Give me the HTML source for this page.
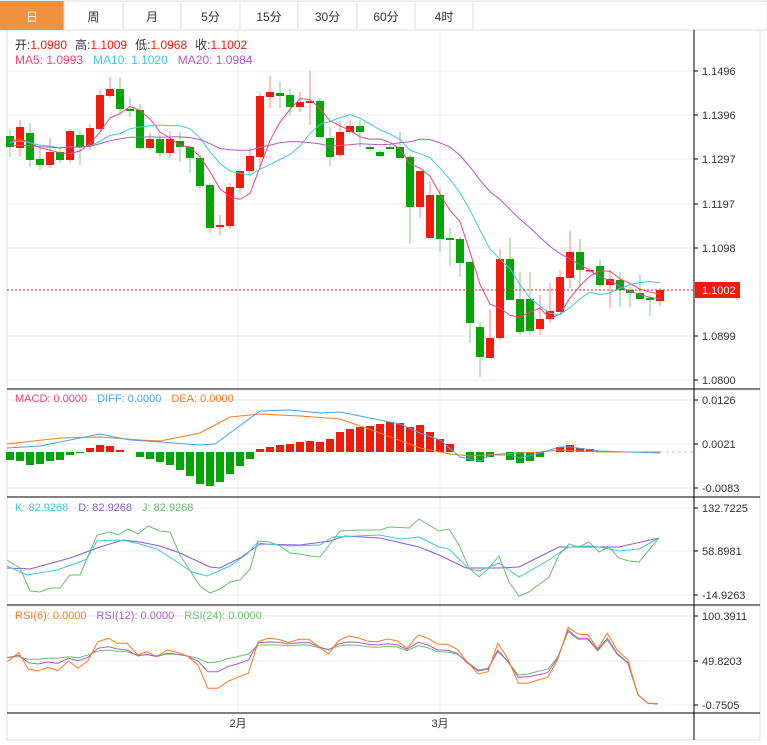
<!DOCTYPE html>
<html><head><meta charset="utf-8"><style>
body{margin:0;background:#fff;width:767px;height:745px;overflow:hidden;font-family:"Liberation Sans","Noto Sans CJK SC",sans-serif;}
svg{position:absolute;left:0;top:0}
</style></head><body>
<svg id="s" width="767" height="745" xmlns="http://www.w3.org/2000/svg" font-family="Liberation Sans, Noto Sans CJK SC, sans-serif"></svg>
<script>
const S=document.getElementById('s');let h='';
function L(x1,y1,x2,y2,c,w,d){h+=`<line x1="${x1}" y1="${y1}" x2="${x2}" y2="${y2}" stroke="${c}" stroke-width="${w||1}" ${d?'stroke-dasharray="'+d+'"':''}/>`;}
function T(x,y,t,c,s,a){h+=`<text x="${x}" y="${y}" fill="${c}" font-size="${s||12}" ${a?'text-anchor="'+a+'"':''}>${t}</text>`;}
function P(pts,c,w){h+=`<polyline fill="none" stroke="${c}" stroke-width="${w||1}" points="${pts.map(p=>p.join(',')).join(' ')}"/>`;}
const tabs=[['日',0,64],['周',64,123],['月',123,181],['5分',181,240],['15分',240,298],['30分',298,357],['60分',357,415],['4时',415,473],['',473,767]];
L(0,1,767,1,'#ddd');L(0,30,767,30,'#ddd');
tabs.forEach((t,i)=>{if(i==0)h+=`<rect x="0" y="1" width="64" height="29" fill="#f0913f"/>`;L(t[2],1,t[2],30,'#ddd');T((t[1]+t[2])/2,21,t[0],i==0?'#fff':'#333',12,'middle');});
L(7,30,7,740,'#ddd');L(760,30,760,740,'#ddd');L(7,740,760,740,'#ddd');
[71,115,159,204,248,336,380,400,444,488,508,551,595,616,661,705].forEach(y=>L(7,y,694,y,'#e8eef3'));
L(238,30,238,713,'#e8eef3');L(440,30,440,713,'#e8eef3');
[389,497,605,713].forEach(y=>L(7,y,760,y,'#000'));
L(694,30,694,740,'#000');
[['1.1496',71],['1.1396',115],['1.1297',159],['1.1197',204],['1.1098',248],['1.0899',336],['1.0800',380],['0.0126',400],['0.0021',444],['-0.0083',488],['132.7225',508],['58.8981',551],['-14.9263',595],['100.3911',616],['49.8203',661],['-0.7505',705]].forEach(a=>{L(694,a[1],698,a[1],'#000');T(702,a[1]+4,a[0],'#333',11);});
T(238,727,'2月','#333',11,'middle');T(440,727,'3月','#333',11,'middle');
const C=[['g',136,147,130,157],['r',127,148,120,157],['g',133,160,123,167],['g',159,165,147,170],['r',152,165,138,168],['g',152,160,147,163],['r',131,160,129,163],['g',135,147,131,165],['r',128,146,124,150],['r',95,129,90,131],['r',89,96,77,98],['g',89,109,77,114],['g',109,111,98,117],['g',110,148,104,150],['r',139,148,133,150],['g',139,153,135,157],['r',139,153,131,158],['g',141,147,132,162],['g',147,158,145,173],['g',158,186,156,189],['g',185,228,183,233],['r',225,227,215,235],['r',187,226,183,229],['r',171,188,169,193],['r',156,171,148,175],['r',96,157,93,170],['r',92,97,76,108],['g',93,96,82,108],['g',95,107,89,115],['r',102,107,92,112],['r',101,103,71,125],['g',101,137,98,137],['g',138,157,127,166],['r',132,155,121,157],['r',126,132,120,134],['g',126,132,120,147],['g',147,149,145,151],['g',152,156,150,157],['g',147,149,145,150],['g',147,158,132,158],['g',157,207,155,244],['r',171,207,171,218],['r',195,238,182,238],['g',195,239,188,252],['g',238,240,228,266],['g',239,263,237,277],['g',262,323,262,343],['g',327,357,322,377],['r',338,358,310,358],['r',259,338,249,340],['g',259,300,238,300],['g',299,332,272,335],['g',299,331,272,335],['r',319,329,295,335],['r',311,319,283,323],['r',277,312,271,312],['r',252,278,231,288],['g',252,270,239,287],['r',270,271,268,273],['g',266,285,260,287],['r',279,285,270,308],['g',280,290,272,307],['g',290,293,287,307],['g',293,299,275,299],['g',298,300,295,316],['r',290,301,288,306]];
const closes=[];
C.forEach((c,i)=>{const x=10+10*i,col=c[0]=='r'?'#f21a0a':'#03a503',wc=c[0]=='r'?'#f58a80':'#7fcf7f';
L(x,c[3],x,c[4],wc);h+=`<rect x="${x-4}" y="${c[1]}" width="8" height="${Math.max(1.5,c[2]-c[1])}" fill="${col}"/>`;
closes.push(c[0]=='r'?c[1]:c[2]);});
function ma(n,pre){return closes.map((v,i)=>{let s=0,k=0;for(let j=i-n+1;j<=i;j++){s+=j<0?pre:closes[j];k++;}return [10+10*i,(s/k).toFixed(1)];});}
P(ma(5,140),'#f0457a');P(ma(10,142),'#3fc8e0');P(ma(20,146),'#b05ac8');
L(7,290,694,290,'#f21a0a',1,'2,2');
h+=`<rect x="695" y="282" width="45" height="16" fill="#f21a0a"/>`;T(702,294,'1.1002','#fff',11);
const M=[-8,-9,-13,-12,-9,-8,-3,-1,4,7,6,2,0,-5,-7,-10,-13,-18,-24,-32,-34,-30,-22,-14,-7,3,5,7,8,10,11,10,13,20,23,25,26,28,30,29,25,27,20,13,8,0,-9,-10,-5,0,-8,-11,-9,-5,0,5,7,4,3,1,1,0.5,0.5,0,0,0];
M.forEach((v,i)=>{const x=10+10*i;if(v==0)return;h+=`<rect x="${x-4}" y="${v>0?452-v:452}" width="8" height="${Math.abs(v)}" fill="${v>0?'#f21a0a':'#03a503'}"/>`;});
L(660,452,694,452,'#9fd0e8',1,'3,3');
P([[7,444],[60,438],[100,437],[140,440],[160,441],[200,433],[230,417],[260,414],[300,416],[340,419],[380,433],[420,448],[450,454],[470,456],[500,454],[540,452],[560,450],[600,452],[660,452]],'#ff7a1a');
P([[7,448],[40,446],[100,434],[130,440],[160,442],[200,445],[215,444],[260,411],[290,410],[320,413],[340,412],[380,420],[400,424],[420,433],[440,440],[460,457],[480,461],[490,455],[510,455],[520,458],[540,453],[560,447],[570,447],[600,451],[660,453]],'#4aa3f0');
P([[7,568],[30,569],[70,558],[100,547],[123,540],[140,542],[160,546],[180,553],[210,567],[220,568],[240,558],[260,544],[300,545],[330,541],[345,536],[380,538],[419,547],[439,555],[466,568],[499,568],[519,567],[559,547],[599,547],[619,547],[659,538]],'#8a5ad8');
P([[7,566],[27,575],[57,570],[77,563],[87,559],[97,541],[117,540],[127,541],[140,544],[157,549],[177,562],[192,572],[207,576],[230,566],[247,554],[257,543],[290,546],[320,545],[333,537],[380,535],[400,539],[419,537],[439,547],[449,549],[469,569],[479,571],[499,563],[519,577],[549,560],[559,553],[569,547],[589,546],[599,547],[619,551],[639,549],[659,538]],'#3fc8e0');
P([[7,560],[20,568],[30,591],[40,592],[50,588],[60,588],[70,575],[80,575],[97,535],[110,532],[118,535],[128,529],[138,534],[148,526],[160,531],[170,532],[180,555],[200,586],[210,593],[220,589],[230,582],[240,580],[250,569],[258,541],[270,542],[280,546],[290,553],[300,554],[310,556],[320,557],[330,544],[340,531],[360,530],[380,530],[389,527],[409,528],[419,519],[439,531],[449,529],[459,545],[469,568],[479,577],[489,568],[499,556],[509,582],[519,596],[529,592],[549,577],[559,555],[569,544],[579,547],[589,542],[599,552],[609,547],[619,558],[629,561],[639,562],[659,538]],'#6cc06c');
const zx=[15,38,58,78,98,118,140,160,180,200,222,240,260,282,300,320,342,362,382,405,425,445,465,485,508,528,548,568,590,612,632,652,672,692,712,732,752,772,792,812,832,855,875,895,915,935,955,978,998,1018,1038,1060,1080,1100,1120,1140,1162,1182,1202,1222,1242,1262,1284,1305,1325,1345];
function R(ys,c){P(ys.map((y,i)=>[(zx[i]/2.045).toFixed(1),(600+y/3).toFixed(1)]),c);}
R([172,170,178,178,175,175,170,173,165,153,150,154,155,166,164,167,162,163,167,175,188,186,176,170,162,135,135,135,137,135,135,143,148,138,135,136,140,142,139,141,152,137,143,155,156,162,185,210,205,155,183,225,222,214,208,172,95,118,118,153,120,163,190,285,310,311],'#6cc06c');
R([173,166,188,192,186,190,175,182,172,145,140,147,150,168,163,170,160,163,168,183,215,215,200,192,180,128,126,127,131,128,128,140,150,132,126,127,133,135,131,134,148,127,135,150,151,160,188,213,207,150,183,232,230,224,218,175,90,115,115,150,115,160,188,285,310,311],'#b05ac8');
R([185,158,207,213,202,212,183,205,182,125,115,130,130,165,155,170,150,157,167,195,265,265,245,232,220,125,115,118,127,118,118,140,162,122,108,113,124,125,117,122,145,105,115,133,133,148,185,222,215,130,175,250,250,240,232,180,82,102,104,146,100,150,180,285,310,312],'#ff7a1a');
h+=`<text x="15" y="49" font-size="12"><tspan fill="#333">开:</tspan><tspan fill="#f21a0a">1.0980</tspan><tspan fill="#333" dx="8">高:</tspan><tspan fill="#f21a0a">1.1009</tspan><tspan fill="#333" dx="8">低:</tspan><tspan fill="#f21a0a">1.0968</tspan><tspan fill="#333" dx="8">收:</tspan><tspan fill="#f21a0a">1.1002</tspan></text>`;
h+=`<text x="15" y="64" font-size="12"><tspan fill="#f0457a">MA5: 1.0993</tspan><tspan fill="#3fc8e0" dx="10">MA10: 1.1020</tspan><tspan fill="#b05ac8" dx="10">MA20: 1.0984</tspan></text>`;
h+=`<text x="15" y="402" font-size="11"><tspan fill="#f0457a">MACD: 0.0000</tspan><tspan fill="#4aa3f0" dx="10">DIFF: 0.0000</tspan><tspan fill="#ff7a1a" dx="10">DEA: 0.0000</tspan></text>`;
h+=`<text x="15" y="511" font-size="11"><tspan fill="#3fc8e0">K: 82.9268</tspan><tspan fill="#8a5ad8" dx="10">D: 82.9268</tspan><tspan fill="#6cc06c" dx="10">J: 82.9268</tspan></text>`;
h+=`<text x="15" y="619" font-size="11"><tspan fill="#ff7a1a">RSI(6): 0.0000</tspan><tspan fill="#b05ac8" dx="10">RSI(12): 0.0000</tspan><tspan fill="#6cc06c" dx="10">RSI(24): 0.0000</tspan></text>`;
S.innerHTML=h;
</script>
</body></html>
